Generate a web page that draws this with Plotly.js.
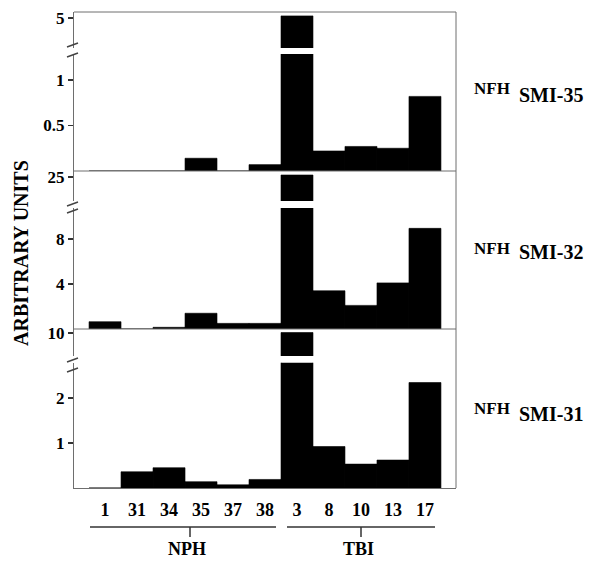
<!DOCTYPE html>
<html>
<head>
<meta charset="utf-8">
<script src="https://cdn.plot.ly/plotly-3.0.1.min.js"></script>
<style>html,body{margin:0;padding:0;background:#fff;}#chart{width:593px;height:561px;}</style>
</head>
<body>
<div id="chart"></div>
<script>
// ---- data ----
const categories = ['1','31','34','35','37','38','3','8','10','13','17'];
const groups = ['NPH','TBI'];
const smi35 = [0, 0, 0, 0.14, 0, 0.07, 5.07, 0.22, 0.27, 0.25, 0.82];
const smi32 = [0.65, 0, 0.15, 1.4, 0.5, 0.5, 25.2, 3.4, 2.1, 4.1, 8.95];
const smi31 = [0, 0.36, 0.45, 0.14, 0.07, 0.19, 10.05, 0.92, 0.53, 0.62, 2.34];
const panelNames = ['SMI-35', 'SMI-32', 'SMI-31'];
const lowTicks = [[0.5, 1], [4, 8], [1, 2]];
const lowTickText = [['0.5', '1'], ['4', '8'], ['1', '2']];
const highTicks = [[5], [25], [10]];
const highTickText = [['5'], ['25'], ['10']];

// ---- layout geometry (pixels) ----
const W = 593, H = 561;
const L = 74, R = 456, T = 12, B = 488;
const pw = R - L, ph = B - T;
const px2x = p => (p - L) / pw;
const py2y = p => (B - p) / ph;

const upperPx = [[12, 48], [171, 201], [329, 356]];
const lowerPx = [[54, 171], [208, 329], [362.7, 488]];
const upperRange = [[4.0, 5.2], [22.6, 25.6], [7.7, 10.4]];
const lowerRange = [[0, 1.286], [0, 10.76], [0, 2.78]];
const breakMarks = [[45, 55], [204, 211], [360, 370]];
const labelPx = [[88.5, 95], [248, 252], [408.5, 413.5]];

const FONT = "'Liberation Serif', 'Times New Roman', Times, serif";
const LINE = '#6e6e6e';
const series = [smi35, smi32, smi31];
const bf = (size) => ({family: FONT, size: size, color: '#000', weight: 'bold'});

const traces = [];
const layout = {
  width: W, height: H,
  margin: {l: L, r: W - R, t: T, b: H - B, pad: 0},
  paper_bgcolor: '#fff', plot_bgcolor: '#fff',
  showlegend: false,
  bargap: 0,
  font: bf(17),
  xaxis: {
    type: 'category', range: [-0.97, 10.97], anchor: 'y6',
    showline: true, linecolor: LINE, linewidth: 1,
    ticks: '', showgrid: false, zeroline: false,
    ticklabelstandoff: 5,
    tickfont: bf(18)
  },
  shapes: [], annotations: []
};

for (let p = 0; p < 3; p++) {
  const up = 2 * p + 1, lo = 2 * p + 2;
  const upName = 'yaxis' + (up === 1 ? '' : up), loName = 'yaxis' + lo;
  const upRef = up === 1 ? 'y' : 'y' + up, loRef = 'y' + lo;
  const common = {
    anchor: 'x', showline: true, linecolor: LINE, linewidth: 1,
    ticks: 'outside', ticklen: 5, tickcolor: '#333', tickwidth: 1.5,
    showgrid: false, zeroline: false, fixedrange: true,
    tickfont: bf(17)
  };
  layout[upName] = Object.assign({}, common, {
    domain: [py2y(upperPx[p][1]), py2y(upperPx[p][0])],
    range: upperRange[p], tickmode: 'array',
    tickvals: highTicks[p], ticktext: highTickText[p]
  });
  layout[loName] = Object.assign({}, common, {
    domain: [py2y(lowerPx[p][1]), py2y(lowerPx[p][0])],
    range: lowerRange[p], tickmode: 'array',
    tickvals: lowTicks[p], ticktext: lowTickText[p]
  });
  [upRef, loRef].forEach(ref => {
    traces.push({
      type: 'bar', x: categories, y: series[p], xaxis: 'x', yaxis: ref,
      width: 1, marker: {color: '#000', line: {width: 0.6, color: '#000'}},
      hoverinfo: 'x+y'
    });
  });
  layout.shapes.push({type: 'line', xref: 'paper', yref: 'paper',
    x0: 0, x1: 1, y0: py2y(upperPx[p][0]), y1: py2y(upperPx[p][0]),
    line: {color: LINE, width: 1}});
  breakMarks[p].forEach(yy => {
    layout.shapes.push({type: 'line', xref: 'paper', yref: 'paper',
      x0: px2x(67), x1: px2x(78), y0: py2y(yy + 2), y1: py2y(yy - 2),
      line: {color: '#444', width: 1.5}});
  });
  layout.annotations.push({xref: 'paper', yref: 'paper', x: px2x(472), y: py2y(labelPx[p][0]),
    xanchor: 'left', yanchor: 'middle', showarrow: false, text: 'NFH', font: bf(17)});
  layout.annotations.push({xref: 'paper', yref: 'paper', x: px2x(517), y: py2y(labelPx[p][1]),
    xanchor: 'left', yanchor: 'middle', showarrow: false, text: panelNames[p], font: bf(20)});
}
layout.shapes.push({type: 'line', xref: 'paper', yref: 'paper', x0: 1, x1: 1, y0: 0, y1: 1,
  line: {color: LINE, width: 1}});

const groupPx = [[90, 276, 190], [287, 435, 361]];
groupPx.forEach((g, i) => {
  layout.shapes.push({type: 'line', xref: 'paper', yref: 'paper',
    x0: px2x(g[0]), x1: px2x(g[1]), y0: py2y(527), y1: py2y(527),
    line: {color: '#333', width: 1.5}});
  layout.shapes.push({type: 'line', xref: 'paper', yref: 'paper',
    x0: px2x(g[2]), x1: px2x(g[2]), y0: py2y(527), y1: py2y(537),
    line: {color: '#333', width: 1.5}});
  layout.annotations.push({xref: 'paper', yref: 'paper', x: px2x(g[2] - 3), y: py2y(549),
    xanchor: 'center', yanchor: 'middle', showarrow: false, text: groups[i], font: bf(18)});
});

layout.annotations.push({xref: 'paper', yref: 'paper', x: px2x(21), y: py2y(253),
  xanchor: 'center', yanchor: 'middle', showarrow: false, textangle: -90,
  text: 'ARBITRARY UNITS', font: bf(20)});

Plotly.newPlot('chart', traces, layout, {displayModeBar: false, staticPlot: true});
</script>
</body>
</html>
